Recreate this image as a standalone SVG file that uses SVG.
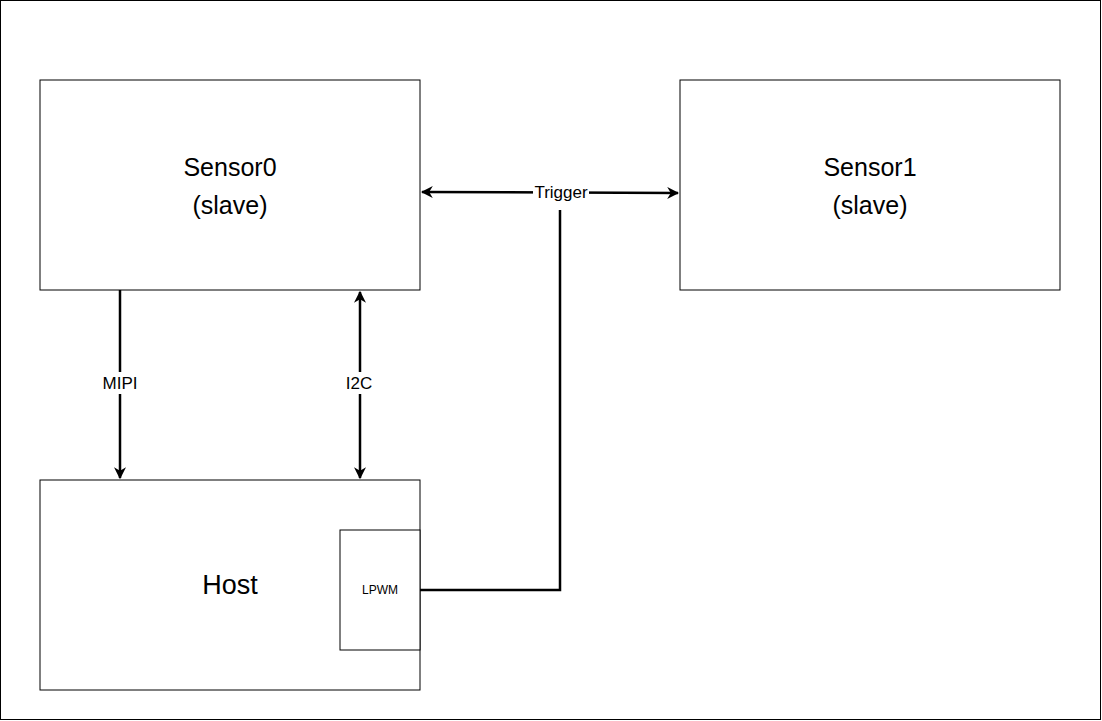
<svg xmlns="http://www.w3.org/2000/svg" width="1102" height="721" viewBox="0 0 1102 721">
<style>
.box{fill:#fff;stroke:#000;stroke-width:1}
.ln{fill:none;stroke:#000;stroke-width:2.5}
.t{font-family:"Liberation Sans",Arial,sans-serif;fill:#000;text-anchor:middle}
</style>
<defs>
<marker id="a" viewBox="0 0 10 10" refX="9" refY="5" markerWidth="12" markerHeight="12" markerUnits="userSpaceOnUse" orient="auto-start-reverse">
<path d="M0,0 L10,5 L0,10 L3,5 Z" fill="#000"/>
</marker>
</defs>
<rect x="0.5" y="0.5" width="1100" height="719" fill="#fff" stroke="#000"/>
<g id="sensor0"><rect class="box" x="40" y="80" width="380" height="210"/>
<text class="t" x="230" y="176" font-size="25">Sensor0</text><text class="t" x="230" y="214" font-size="25">(slave)</text></g>
<g id="sensor1"><rect class="box" x="680" y="80" width="380" height="210"/>
<text class="t" x="870" y="176" font-size="25">Sensor1</text><text class="t" x="870" y="214" font-size="25">(slave)</text></g>
<g id="host"><rect class="box" x="40" y="480" width="380" height="210"/>
<text class="t" x="230" y="594" font-size="27">Host</text></g>
<g id="lpwm"><rect class="box" x="340" y="530" width="80" height="120"/>
<text class="t" x="380" y="594" font-size="12">LPWM</text></g>
<g id="connectors">
<line class="ln" x1="120" y1="290" x2="120" y2="478" marker-end="url(#a)"/>
<line class="ln" x1="360" y1="292" x2="360" y2="478" marker-start="url(#a)" marker-end="url(#a)"/>
<line class="ln" x1="422" y1="192" x2="678" y2="193" marker-start="url(#a)" marker-end="url(#a)"/>
<polyline class="ln" points="420,590 560,590 560,210"/>
<rect x="102" y="372" width="36" height="22" fill="#fff"/>
<text class="t" x="120" y="389" font-size="17">MIPI</text>
<rect x="343" y="372" width="34" height="22" fill="#fff"/>
<text class="t" x="359" y="389" font-size="17">I2C</text>
<rect x="533" y="182" width="56" height="22" fill="#fff"/>
<text class="t" x="561" y="198" font-size="17">Trigger</text>
</g>
</svg>
